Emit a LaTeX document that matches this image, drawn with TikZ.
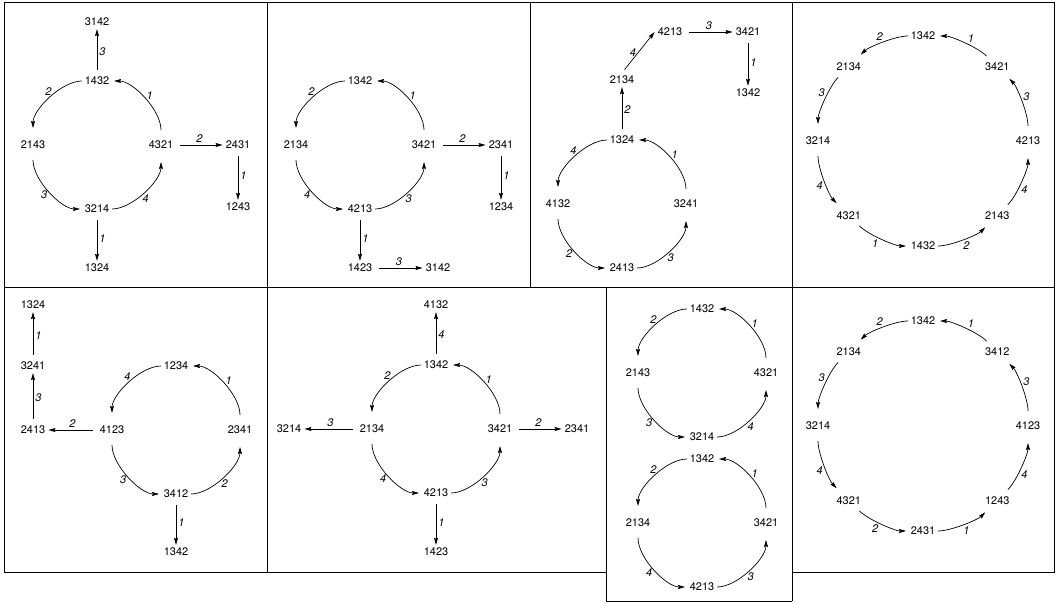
\documentclass[tikz,border=0pt]{standalone}
\usepackage{fontspec}
\setmainfont{TeX Gyre Heros}
\usetikzlibrary{arrows.meta}
\begin{document}
\begin{tikzpicture}[x=1pt,y=1pt,
  st/.style={font=\fontsize{11}{13}\selectfont, inner xsep=3pt, inner ysep=3pt},
  lab/.style={font=\fontsize{11}{13}\selectfont\itshape, inner sep=2pt},
  cl/.style={lab, auto, swap, pos=.47},
  arr/.style={line width=0.7pt, -{Stealth[length=7pt,width=4pt,inset=1pt]}},
  sarr/.style={arr, shorten <=4pt},
  carr/.style={arr, shorten <=15pt, shorten >=17pt},
  ba/.style={bend right=45},
  bb/.style={bend right=22.5, looseness=0.885},
  bord/.style={line width=1pt}]
\useasboundingbox (0,0) rectangle (1056,603);
% ---------- frames ----------
\draw[bord] (4,600) rectangle (1054,316);
\draw[bord] (267,600) -- (267,31);
\draw[bord] (530,600) -- (530,316);
\draw[bord] (792,600) -- (792,2);
\draw[bord] (4,316) -- (4,31) -- (606,31);
\draw[bord] (606,316) -- (606,2) -- (792,2);
\draw[bord] (792,31) -- (1054,31) -- (1054,316);
% ---------- panel 1 ----------
\coordinate (c1) at (97,458);
\node[st] (p1n) at ([shift={(90:64)}]c1) {1432};
\node[st] (p1w) at ([shift={(180:64)}]c1) {2143};
\node[st] (p1e) at ([shift={(0:64)}]c1) {4321};
\node[st] (p1s) at ([shift={(270:64)}]c1) {3214};
\node[st] (p1t) at (97,581) {3142};
\node[st] (p1b) at (97,335) {1324};
\node[st] (p1r) at (238,458) {2431};
\node[st] (p1q) at (238,396) {1243};
\draw[carr] (p1e.center) to[ba] node[cl]{1} (p1n.center);
\draw[carr] (p1n.center) to[ba] node[cl]{2} (p1w.center);
\draw[carr] (p1w.center) to[ba] node[cl]{3} (p1s.center);
\draw[carr] (p1s.center) to[ba] node[cl]{4} (p1e.center);
\draw[sarr] (p1n) -- node[lab,right]{3} (p1t);
\draw[sarr] (p1e) -- node[lab,above]{2} (p1r);
\draw[sarr] (p1r) -- node[lab,right]{1} (p1q);
\draw[sarr] (p1s) -- node[lab,right]{1} (p1b);
% ---------- panel 2 ----------
\coordinate (c2) at (360,458);
\node[st] (p2n) at ([shift={(90:64)}]c2) {1342};
\node[st] (p2w) at ([shift={(180:64)}]c2) {2134};
\node[st] (p2e) at ([shift={(0:64)}]c2) {3421};
\node[st] (p2s) at ([shift={(270:64)}]c2) {4213};
\node[st] (p2r) at (501,458) {2341};
\node[st] (p2q) at (501,396) {1234};
\node[st] (p2b) at (360,335) {1423};
\node[st] (p2c) at (438,335) {3142};
\draw[carr] (p2e.center) to[ba] node[cl]{1} (p2n.center);
\draw[carr] (p2n.center) to[ba] node[cl]{2} (p2w.center);
\draw[carr] (p2w.center) to[ba] node[cl]{4} (p2s.center);
\draw[carr] (p2s.center) to[ba] node[cl]{3} (p2e.center);
\draw[sarr] (p2e) -- node[lab,above]{2} (p2r);
\draw[sarr] (p2r) -- node[lab,right]{1} (p2q);
\draw[sarr] (p2s) -- node[lab,right]{1} (p2b);
\draw[sarr] (p2b) -- node[lab,above]{3} (p2c);
% ---------- panel 3 ----------
\coordinate (c3) at (622,399);
\node[st] (p3n) at ([shift={(90:64)}]c3) {1324};
\node[st] (p3w) at ([shift={(180:64)}]c3) {4132};
\node[st] (p3e) at ([shift={(0:64)}]c3) {3241};
\node[st] (p3s) at ([shift={(270:64)}]c3) {2413};
\node[st] (p3a) at (622,523) {2134};
\node[st] (p3b) at (670,571) {4213};
\node[st] (p3c) at (748,571) {3421};
\node[st] (p3d) at (748,510) {1342};
\draw[carr] (p3e.center) to[ba] node[cl]{1} (p3n.center);
\draw[carr] (p3n.center) to[ba] node[cl]{4} (p3w.center);
\draw[carr] (p3w.center) to[ba] node[cl]{2} (p3s.center);
\draw[carr] (p3s.center) to[ba] node[cl]{3} (p3e.center);
\draw[sarr] (p3n) -- node[lab,right]{2} (p3a);
\draw[sarr] (p3a.north) -- node[lab,left]{4} (p3b.west);
\draw[sarr] (p3b) -- node[lab,above]{3} (p3c);
\draw[sarr] (p3c) -- node[lab,right]{1} (p3d);
% ---------- panel 4 ----------
\coordinate (c4) at (923,462);
\node[st] (p4a) at ([shift={(90:105)}]c4) {1342};
\node[st] (p4b) at ([shift={(135:105)}]c4) {2134};
\node[st] (p4c) at ([shift={(180:105)}]c4) {3214};
\node[st] (p4d) at ([shift={(225:105)}]c4) {4321};
\node[st] (p4e) at ([shift={(270:105)}]c4) {1432};
\node[st] (p4f) at ([shift={(315:105)}]c4) {2143};
\node[st] (p4g) at ([shift={(0:105)}]c4) {4213};
\node[st] (p4h) at ([shift={(45:105)}]c4) {3421};
\draw[carr] (p4h.center) to[bb] node[cl]{1} (p4a.center);
\draw[carr] (p4a.center) to[bb] node[cl]{2} (p4b.center);
\draw[carr] (p4b.center) to[bb] node[cl]{3} (p4c.center);
\draw[carr] (p4c.center) to[bb] node[cl]{4} (p4d.center);
\draw[carr] (p4d.center) to[bb] node[cl]{1} (p4e.center);
\draw[carr] (p4e.center) to[bb] node[cl]{2} (p4f.center);
\draw[carr] (p4f.center) to[bb] node[cl]{4} (p4g.center);
\draw[carr] (p4g.center) to[bb] node[cl]{3} (p4h.center);
% ---------- panel 5 ----------
\coordinate (c5) at (176,173);
\node[st] (p5n) at ([shift={(90:64)}]c5) {1234};
\node[st] (p5w) at ([shift={(180:64)}]c5) {4123};
\node[st] (p5e) at ([shift={(0:64)}]c5) {2341};
\node[st] (p5s) at ([shift={(270:64)}]c5) {3412};
\node[st] (p5a) at (33,173) {2413};
\node[st] (p5b) at (33,237) {3241};
\node[st] (p5c) at (33,298) {1324};
\node[st] (p5d) at (176,51) {1342};
\draw[carr] (p5e.center) to[ba] node[cl]{1} (p5n.center);
\draw[carr] (p5n.center) to[ba] node[cl]{4} (p5w.center);
\draw[carr] (p5w.center) to[ba] node[cl]{3} (p5s.center);
\draw[carr] (p5s.center) to[ba] node[cl]{2} (p5e.center);
\draw[sarr] (p5w) -- node[lab,above]{2} (p5a);
\draw[sarr] (p5a) -- node[lab,right]{3} (p5b);
\draw[sarr] (p5b) -- node[lab,right]{1} (p5c);
\draw[sarr] (p5s) -- node[lab,right]{1} (p5d);
% ---------- panel 6 ----------
\coordinate (c6) at (436,174);
\node[st] (p6n) at ([shift={(90:64)}]c6) {1342};
\node[st] (p6w) at ([shift={(180:64)}]c6) {2134};
\node[st] (p6e) at ([shift={(0:64)}]c6) {3421};
\node[st] (p6s) at ([shift={(270:64)}]c6) {4213};
\node[st] (p6a) at (436,298) {4132};
\node[st] (p6b) at (289,174) {3214};
\node[st] (p6c) at (577,174) {2341};
\node[st] (p6d) at (436,51) {1423};
\draw[carr] (p6e.center) to[ba] node[cl]{1} (p6n.center);
\draw[carr] (p6n.center) to[ba] node[cl]{2} (p6w.center);
\draw[carr] (p6w.center) to[ba] node[cl]{4} (p6s.center);
\draw[carr] (p6s.center) to[ba] node[cl]{3} (p6e.center);
\draw[sarr] (p6n) -- node[lab,right]{4} (p6a);
\draw[sarr] (p6w) -- node[lab,above]{3} (p6b);
\draw[sarr] (p6e) -- node[lab,above]{2} (p6c);
\draw[sarr] (p6s) -- node[lab,right]{1} (p6d);
% ---------- panel 7 (two cycles) ----------
\coordinate (c7) at (702,230);
\node[st] (p7n) at ([shift={(90:64)}]c7) {1432};
\node[st] (p7w) at ([shift={(180:64)}]c7) {2143};
\node[st] (p7e) at ([shift={(0:64)}]c7) {4321};
\node[st] (p7s) at ([shift={(270:64)}]c7) {3214};
\draw[carr] (p7e.center) to[ba] node[cl]{1} (p7n.center);
\draw[carr] (p7n.center) to[ba] node[cl]{2} (p7w.center);
\draw[carr] (p7w.center) to[ba] node[cl]{3} (p7s.center);
\draw[carr] (p7s.center) to[ba] node[cl]{4} (p7e.center);
\coordinate (c8) at (702,80);
\node[st] (p8n) at ([shift={(90:64)}]c8) {1342};
\node[st] (p8w) at ([shift={(180:64)}]c8) {2134};
\node[st] (p8e) at ([shift={(0:64)}]c8) {3421};
\node[st] (p8s) at ([shift={(270:64)}]c8) {4213};
\draw[carr] (p8e.center) to[ba] node[cl]{1} (p8n.center);
\draw[carr] (p8n.center) to[ba] node[cl]{2} (p8w.center);
\draw[carr] (p8w.center) to[ba] node[cl]{4} (p8s.center);
\draw[carr] (p8s.center) to[ba] node[cl]{3} (p8e.center);
% ---------- panel 8 ----------
\coordinate (c9) at (923,177);
\node[st] (p9a) at ([shift={(90:105)}]c9) {1342};
\node[st] (p9b) at ([shift={(135:105)}]c9) {2134};
\node[st] (p9c) at ([shift={(180:105)}]c9) {3214};
\node[st] (p9d) at ([shift={(225:105)}]c9) {4321};
\node[st] (p9e) at ([shift={(270:105)}]c9) {2431};
\node[st] (p9f) at ([shift={(315:105)}]c9) {1243};
\node[st] (p9g) at ([shift={(0:105)}]c9) {4123};
\node[st] (p9h) at ([shift={(45:105)}]c9) {3412};
\draw[carr] (p9h.center) to[bb] node[cl]{1} (p9a.center);
\draw[carr] (p9a.center) to[bb] node[cl]{2} (p9b.center);
\draw[carr] (p9b.center) to[bb] node[cl]{3} (p9c.center);
\draw[carr] (p9c.center) to[bb] node[cl]{4} (p9d.center);
\draw[carr] (p9d.center) to[bb] node[cl]{2} (p9e.center);
\draw[carr] (p9e.center) to[bb] node[cl]{1} (p9f.center);
\draw[carr] (p9f.center) to[bb] node[cl]{4} (p9g.center);
\draw[carr] (p9g.center) to[bb] node[cl]{3} (p9h.center);
\end{tikzpicture}
\end{document}
